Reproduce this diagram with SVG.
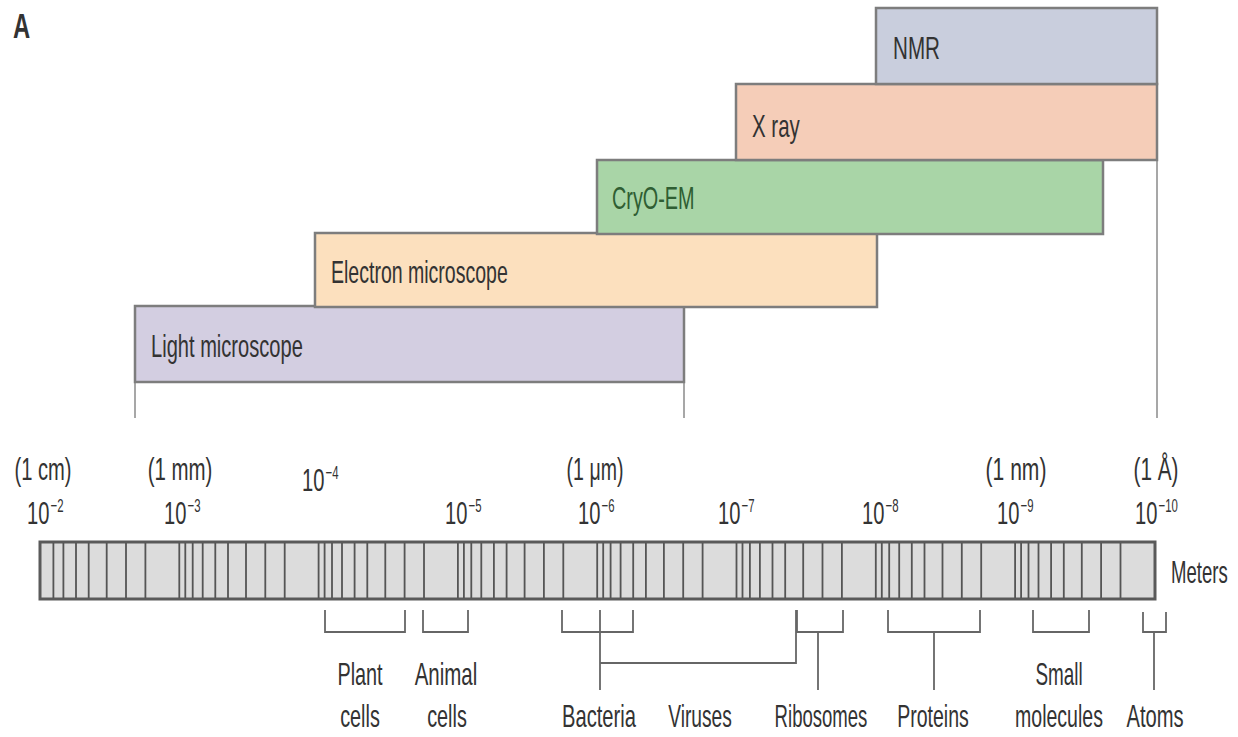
<svg xmlns="http://www.w3.org/2000/svg" width="1238" height="737" viewBox="0 0 1238 737">
<style>
.t{font-family:"Liberation Sans",Arial,sans-serif;font-size:32px;fill:#333}
.n{font-family:"Liberation Sans",Arial,sans-serif;font-size:31px;fill:#333}
.sup{font-family:"Liberation Sans",Arial,sans-serif;font-size:19px;fill:#333}
.box{stroke:#7d7d7d;stroke-width:2.5}
.br{fill:none;stroke:#666;stroke-width:1.8}
.rng{fill:none;stroke:#8a8a8a;stroke-width:1.5}
</style>
<rect width="1238" height="737" fill="#fff"/>
<text class="t" transform="translate(13 38) scale(0.68 1)" style="font-weight:bold;font-size:35px">A</text>

<g id="connectors">
  <path class="rng" d="M135,382V418 M684,382V418 M1157,160V418"/>
  <path class="br" d="M325,610V632H405V610 M423,610V632H468V610 M562,610V632H633V610 M600,632V690 M600,610V663H796V610 M797,610V632H843V610 M818,632V690 M888,610V632H980V610 M934,632V690 M1033,610V632H1089V610 M1143,612V632H1166V612 M1154,632V690"/>
</g>

<g id="light-microscope">
  <rect class="box" x="135" y="306" width="549" height="76" fill="#d3cee1"/>
  <text class="t" transform="translate(151 357) scale(0.628 1)">Light microscope</text>
</g>
<g id="electron-microscope">
  <rect class="box" x="315" y="233" width="562" height="74" fill="#fce0be"/>
  <text class="t" transform="translate(331 283) scale(0.61 1)">Electron microscope</text>
</g>
<g id="cryo-em">
  <rect class="box" x="597" y="160" width="506" height="74" fill="#a9d5a7"/>
  <text class="t" transform="translate(612 209) scale(0.62 1)" style="fill:#2f5e33">CryO-EM</text>
</g>
<g id="x-ray">
  <rect class="box" x="736" y="84" width="421" height="76" fill="#f5cdb8"/>
  <text class="t" transform="translate(752 137) scale(0.64 1)">X ray</text>
</g>
<g id="nmr">
  <rect class="box" x="876" y="8" width="281" height="76" fill="#c9cedd"/>
  <text class="t" transform="translate(893 59) scale(0.645 1)">NMR</text>
</g>

<g id="ruler">
  <rect x="40" y="542" width="1115" height="57" fill="#dcdcdc" stroke="#5a5a5a" stroke-width="3"/>
  <path fill="none" stroke="#555" stroke-width="1.8" d="M53.4,543V598 M63.4,543V598 M76,543V598 M88.7,543V598 M106.7,543V598 M126,543V598 M145.4,543V598
  M179.3,543V598 M185.3,543V598 M192.7,543V598 M202.7,543V598 M215.3,543V598 M228,543V598 M246,543V598 M265.3,543V598 M284.7,543V598
  M318.6,543V598 M324.6,543V598 M332,543V598 M342,543V598 M354.6,543V598 M367.3,543V598 M385.3,543V598 M404.6,543V598 M424,543V598
  M457.9,543V598 M463.9,543V598 M471.3,543V598 M481.3,543V598 M493.9,543V598 M506.6,543V598 M524.6,543V598 M543.9,543V598 M563.3,543V598
  M597.2,543V598 M603.2,543V598 M610.6,543V598 M620.6,543V598 M633.2,543V598 M645.9,543V598 M663.9,543V598 M683.2,543V598 M702.6,543V598
  M736.5,543V598 M742.5,543V598 M749.9,543V598 M759.9,543V598 M772.5,543V598 M785.2,543V598 M803.2,543V598 M822.5,543V598 M841.9,543V598
  M875.8,543V598 M881.8,543V598 M889.2,543V598 M899.2,543V598 M911.8,543V598 M924.5,543V598 M942.5,543V598 M961.8,543V598 M981.2,543V598
  M1015.1,543V598 M1021.1,543V598 M1028.5,543V598 M1038.5,543V598 M1051.1,543V598 M1063.8,543V598 M1081.8,543V598 M1101.1,543V598 M1120.5,543V598"/>
  <text class="t" transform="translate(1171 583) scale(0.58 1)">Meters</text>
</g>

<g id="scale-labels">
  <g text-anchor="middle">
    <text class="n" transform="translate(43 480) scale(0.65 1)">(1 cm)</text>
    <text class="n" transform="translate(180 480) scale(0.66 1)">(1 mm)</text>
    <text class="n" transform="translate(595 480) scale(0.63 1)">(1 μm)</text>
    <text class="n" transform="translate(1016 480) scale(0.68 1)">(1 nm)</text>
    <text class="n" transform="translate(1156 480) scale(0.67 1)">(1 Å)</text>
  </g>
  <text class="n" transform="translate(27 524) scale(0.65 1)">10</text><text class="sup" transform="translate(50.5 512) scale(0.6 1)">−2</text>
  <text class="n" transform="translate(164 524) scale(0.65 1)">10</text><text class="sup" transform="translate(187.5 512) scale(0.6 1)">−3</text>
  <text class="n" transform="translate(302 491) scale(0.65 1)">10</text><text class="sup" transform="translate(325.5 479) scale(0.6 1)">−4</text>
  <text class="n" transform="translate(445 524) scale(0.65 1)">10</text><text class="sup" transform="translate(468.5 512) scale(0.6 1)">−5</text>
  <text class="n" transform="translate(578 524) scale(0.65 1)">10</text><text class="sup" transform="translate(601.5 512) scale(0.6 1)">−6</text>
  <text class="n" transform="translate(718 524) scale(0.65 1)">10</text><text class="sup" transform="translate(741.5 512) scale(0.6 1)">−7</text>
  <text class="n" transform="translate(862 524) scale(0.65 1)">10</text><text class="sup" transform="translate(885.5 512) scale(0.6 1)">−8</text>
  <text class="n" transform="translate(997 524) scale(0.65 1)">10</text><text class="sup" transform="translate(1020.5 512) scale(0.6 1)">−9</text>
  <text class="n" transform="translate(1135 524) scale(0.65 1)">10</text><text class="sup" transform="translate(1158.5 512) scale(0.6 1)">−10</text>
</g>

<g id="objects" text-anchor="middle">
  <g id="plant-cells"><text class="t" transform="translate(360 685) scale(0.62 1)">Plant</text><text class="t" transform="translate(360 727) scale(0.62 1)">cells</text></g>
  <g id="animal-cells"><text class="t" transform="translate(446 685) scale(0.64 1)">Animal</text><text class="t" transform="translate(447 727) scale(0.62 1)">cells</text></g>
  <g id="bacteria"><text class="t" transform="translate(599 727) scale(0.63 1)">Bacteria</text></g>
  <g id="viruses"><text class="t" transform="translate(700 727) scale(0.6 1)">Viruses</text></g>
  <g id="ribosomes"><text class="t" transform="translate(821 727) scale(0.58 1)">Ribosomes</text></g>
  <g id="proteins"><text class="t" transform="translate(933 727) scale(0.61 1)">Proteins</text></g>
  <g id="small-molecules"><text class="t" transform="translate(1059 685) scale(0.59 1)">Small</text><text class="t" transform="translate(1059 727) scale(0.61 1)">molecules</text></g>
  <g id="atoms"><text class="t" transform="translate(1155 727) scale(0.63 1)">Atoms</text></g>
</g>
</svg>
